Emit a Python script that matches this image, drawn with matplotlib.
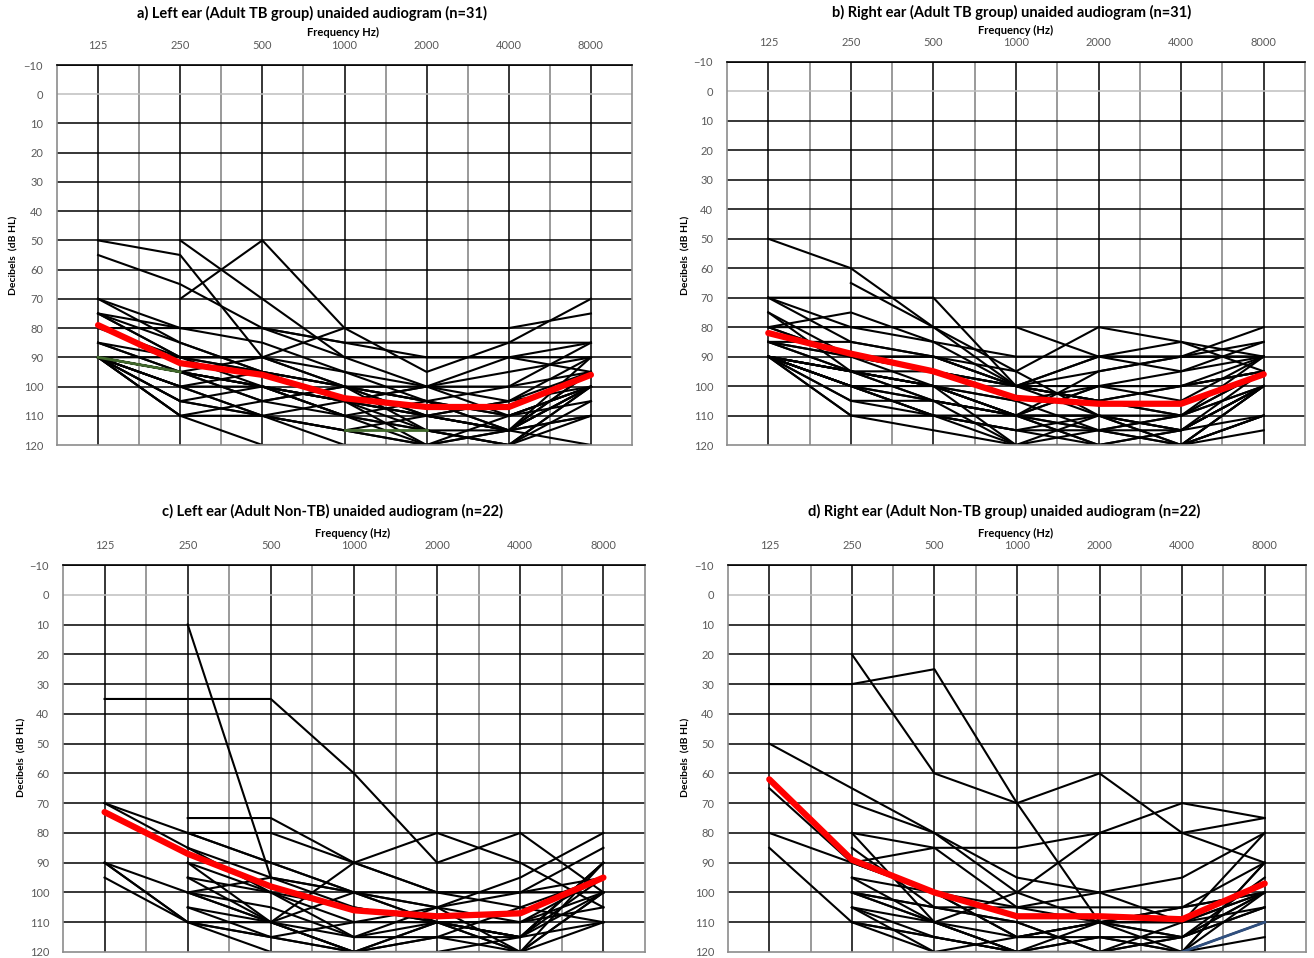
import numpy as np
import matplotlib.pyplot as plt

plt.rcParams['font.family'] = ['Lato', 'DejaVu Sans']

freqs = ['125', '250', '500', '1000', '2000', '4000', '8000']
db_ticks = list(range(-10, 121, 10))
nan = np.nan

# individual thresholds (dB HL) per participant, one row per ear
left_tb = [
    [50, 55, 90, 80, 80, 80, 75],
    [55, 65, 80, 85, 85, 85, 85],
    [70, 85, 95, 100, 105, 110, 100],
    [75, 80, 80, 85, 90, 90, 85],
    [75, 90, 100, 105, 110, 115, 100],
    [85, 95, 100, 110, 115, 120, 105],
    [90, 100, 110, 115, 120, 120, 110],
    [90, 105, 110, 120, 120, 120, 120],
    [90, 110, 120, 120, 120, 120, 120],
    [90, 110, 105, 100, 105, 110, 100],
    [90, 95, 105, 110, 120, 115, 100],
    [nan, 50, 70, 90, 100, 105, 95],
    [nan, 70, 50, 80, 95, 85, 70],
    [80, 90, 90, 100, 100, 90, 90],
    [75, 85, 95, 105, 110, 115, 90],
    [90, 100, 100, 105, 100, 95, 90],
    [90, 95, 105, 100, 105, 115, 95],
    [90, 105, 100, 110, 115, 120, 100],
    [90, 110, 110, 115, 110, 115, 110],
    [90, 100, 110, 115, 120, 110, 105],
    [85, 90, 95, 100, 115, 120, 100],
    [90, 95, 90, 95, 105, 100, 95],
    [90, 100, 95, 100, 110, 105, 90],
    [75, 90, 90, 100, 110, 105, 100],
    [90, 90, 95, 105, 100, 110, 100],
    [80, 80, 80, 90, 90, 90, 95],
    [90, 95, 100, 110, 105, 115, 120],
    [90, 105, 110, 105, 115, 115, 110],
    [90, 95, 100, 105, 120, 115, 95],
    [70, 80, 85, 95, 100, 100, 85],
    [85, 95, 100, 105, 110, 115, 100],
]
# segments of one participant that show in green
left_tb_green = [
    [90, 95, nan, nan, nan, nan, nan],
    [nan, nan, nan, 115, 115, nan, nan],
]

right_tb = [
    [50, 60, 80, 100, 105, 110, 100],
    [70, 70, 70, 100, 95, 90, 90],
    [70, 80, 85, 90, 90, 90, 90],
    [75, 95, 100, 110, 115, 120, 110],
    [80, 75, 85, 100, 90, 85, 95],
    [85, 85, 90, 100, 110, 115, 100],
    [90, 95, 105, 110, 120, 120, 115],
    [90, 100, 105, 110, 110, 120, 100],
    [90, 105, 110, 120, 120, 115, 100],
    [90, 110, 110, 115, 120, 120, 110],
    [90, 95, 100, 110, 115, 110, 95],
    [90, 100, 100, 105, 100, 105, 90],
    [nan, 65, 80, 95, 80, 85, 90],
    [80, 80, 80, 80, 90, 90, 85],
    [85, 90, 95, 100, 100, 100, 95],
    [90, 95, 105, 110, 110, 110, 100],
    [85, 95, 100, 110, 95, 90, 80],
    [90, 100, 110, 115, 115, 115, 100],
    [80, 90, 95, 100, 105, 100, 95],
    [90, 100, 105, 120, 110, 120, 100],
    [75, 90, 90, 95, 110, 115, 95],
    [90, 105, 105, 110, 100, 95, 90],
    [90, 110, 115, 120, 120, 120, 110],
    [90, 95, 95, 100, 105, 110, 95],
    [85, 95, 100, 105, 115, 110, 90],
    [90, 100, 110, 110, 120, 115, 100],
    [80, 90, 90, 100, 90, 95, 85],
    [90, 95, 100, 120, 115, 120, 100],
    [85, 90, 100, 110, 100, 100, 90],
    [90, 100, 110, 115, 110, 115, 110],
    [70, 85, 90, 100, 105, 100, 95],
]

left_non_tb = [
    [35, 35, 35, 60, 90, 80, 100],
    [nan, 10, 95, 100, 110, 115, 90],
    [70, 80, 90, 100, 105, 110, 95],
    [70, 85, 95, 105, 110, 115, 90],
    [nan, 75, 75, 90, 80, 90, 105],
    [nan, 80, 80, 90, 100, 100, 100],
    [90, 100, 95, 100, 105, 95, 80],
    [90, 110, 110, 90, 100, 100, 95],
    [95, 110, 115, 120, 115, 120, 100],
    [nan, 85, 100, 110, 105, 100, 85],
    [nan, 90, 100, 105, 110, 115, 95],
    [nan, 95, 110, 120, 110, 110, 105],
    [nan, 100, 105, 115, 115, 115, 90],
    [nan, 105, 110, 120, 110, 120, 110],
    [90, 110, 120, 120, 120, 120, 120],
    [nan, 90, 110, 100, 100, 105, 110],
    [nan, 100, 110, 120, 115, 105, 95],
    [nan, 95, 100, 115, 105, 120, 100],
    [nan, 110, 115, 110, 110, 115, 100],
    [nan, 105, 115, 120, 120, 115, 110],
    [nan, 100, 110, 115, 110, 120, 90],
    [nan, 80, 90, 100, 110, 110, 100],
]

right_non_tb = [
    [30, 30, 25, 70, 60, 80, 90],
    [nan, 20, 60, 70, 110, 110, 100],
    [50, 65, 80, 95, 100, 110, 80],
    [65, 90, 100, 105, 100, 95, 80],
    [80, 90, 85, 85, 80, 80, 75],
    [nan, 70, 80, 100, 110, 120, 90],
    [85, 110, 115, 120, 120, 115, 100],
    [nan, 80, 85, 105, 110, 105, 100],
    [nan, 80, 110, 100, 80, 70, 75],
    [nan, 95, 100, 115, 110, 115, 95],
    [nan, 100, 105, 110, 120, 120, 90],
    [nan, 100, 110, 120, 115, 120, 100],
    [nan, 105, 115, 120, 120, 110, 105],
    [nan, 105, 110, 115, 115, 120, 110],
    [nan, 110, 120, 120, 120, 120, 120],
    [nan, 100, 105, 105, 105, 105, 100],
    [nan, 90, 100, 115, 110, 105, 90],
    [nan, 105, 120, 115, 110, 110, 100],
    [nan, 85, 105, 110, 120, 120, 115],
    [nan, 110, 115, 120, 120, 115, 105],
    [nan, 95, 110, 120, 110, 115, 100],
    [nan, 100, 110, 120, 115, 115, 105],
]
# segment of one participant that shows in blue
right_non_tb_blue = [
    [nan, nan, nan, nan, nan, 120, 110],
]

# group means
mean_left_tb = [79, 92, 96, 104, 107, 107, 96]
mean_right_tb = [82, 89, 95, 104, 106, 106, 96]
mean_left_non_tb = [73, 87, 98, 106, 108, 107, 95]
mean_right_non_tb = [62, 89, 100, 108, 108, 109, 97]


def draw_panel(rect, curves, mean, extra=(), extra_color=None):
    ax = fig.add_axes(rect)
    x = np.arange(len(freqs))
    ax.set_xlim(-0.5, 6.5)
    ax.set_ylim(120, -10)

    # audiogram grid: octaves black, half octaves grey, 0 dB grey
    for xv in x:
        ax.axvline(xv, color='black', lw=1.1, zorder=1)
    for xv in x[:-1] + 0.5:
        ax.axvline(xv, color='#7f7f7f', lw=1.1, zorder=1)
    for yv in db_ticks[:-1]:
        ax.axhline(yv, color='#bfbfbf' if yv == 0 else 'black', lw=1.1, zorder=1)

    for c in curves:
        ax.plot(x, c, color='black', lw=1.5, zorder=2)
    for c in extra:
        ax.plot(x, c, color=extra_color, lw=2.0, zorder=2.5)
    ax.plot(x, mean, color='#ff0000', lw=4.5, solid_capstyle='round', zorder=3)

    ax.xaxis.tick_top()
    ax.set_xticks(x)
    ax.set_xticklabels(freqs)
    ax.set_yticks(db_ticks)
    ax.tick_params(length=0, labelsize=8, labelcolor='#595959', pad=10)
    for s in ax.spines.values():
        s.set_color('#8c8c8c')
        s.set_linewidth(1.2)
    ax.spines['top'].set_color('black')
    return ax


fig = plt.figure(figsize=(13.14, 9.58), dpi=100)
W, H = 1314, 958


def frac(left, top, right, bottom):
    return [left / W, 1 - bottom / H, (right - left) / W, (bottom - top) / H]


draw_panel(frac(57, 65, 632, 445), left_tb, mean_left_tb, left_tb_green, '#41692c')
draw_panel(frac(727, 62, 1305, 445), right_tb, mean_right_tb)
draw_panel(frac(63, 565, 645, 952), left_non_tb, mean_left_non_tb)
draw_panel(frac(728, 565, 1306, 952), right_non_tb, mean_right_non_tb,
           right_non_tb_blue, '#2f4f7f')

titles = [
    (312, 13, 'a) Left ear (Adult TB group) unaided audiogram (n=31)'),
    (1012, 12, 'b) Right ear (Adult TB group) unaided audiogram (n=31)'),
    (332, 511, 'c) Left ear (Adult Non-TB) unaided audiogram (n=22)'),
    (1004, 511, 'd) Right ear (Adult Non-TB group) unaided audiogram (n=22)'),
]
for tx, ty, t in titles:
    fig.text(tx / W, 1 - ty / H, t, ha='center', va='center',
             fontsize=10.5, fontweight='bold')

xlabels = [(343, 32, 'Frequency Hz)'), (1016, 30, 'Frequency (Hz)'),
           (353, 533, 'Frequency (Hz)'), (1016, 533, 'Frequency (Hz)')]
for tx, ty, t in xlabels:
    fig.text(tx / W, 1 - ty / H, t, ha='center', va='center',
             fontsize=8, fontweight='bold')

ylabels = [(14, 255), (686, 255), (22, 757), (686, 757)]
for tx, ty in ylabels:
    fig.text(tx / W, 1 - ty / H, 'Decibels  (dB HL)', ha='center', va='center',
             rotation=90, fontsize=7.5, fontweight='bold')

fig.savefig('out.png', dpi=100)
